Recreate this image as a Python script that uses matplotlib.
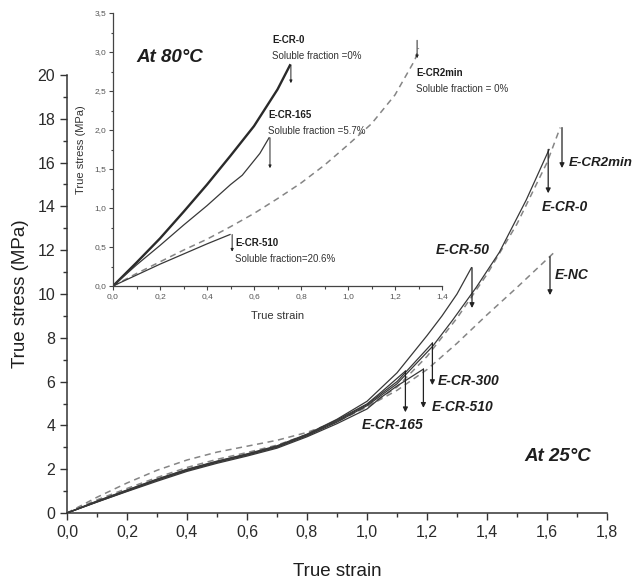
import matplotlib
matplotlib.use('Agg')
import matplotlib.pyplot as plt

plt.rcParams['font.family'] = ['Liberation Sans', 'DejaVu Sans']

# Main plot data (25 °C)
strain_cr0 = [0, 0.1, 0.2, 0.3, 0.4, 0.5, 0.6, 0.7, 0.8, 0.9, 1.0, 1.1, 1.218, 1.285, 1.364, 1.441, 1.531, 1.607]
stress_cr0 = [0, 0.52, 1.02, 1.5, 1.95, 2.33, 2.66, 3.02, 3.52, 4.15, 4.9, 5.9, 7.6, 8.8, 10.3, 11.9, 14.3, 16.6]

strain_cr2min = [0, 0.1, 0.2, 0.3, 0.4, 0.5, 0.6, 0.7, 0.8, 0.9, 1.0, 1.1, 1.2, 1.3, 1.4, 1.5, 1.6, 1.644]
stress_cr2min = [0, 0.6, 1.12, 1.62, 2.08, 2.45, 2.76, 3.1, 3.58, 4.18, 4.85, 5.75, 7.15, 8.9, 10.9, 13.2, 16.0, 17.6]

strain_cr50 = [0, 0.1, 0.2, 0.3, 0.4, 0.5, 0.6, 0.7, 0.8, 0.9, 1.0, 1.1, 1.2, 1.25, 1.3, 1.348]
stress_cr50 = [0, 0.55, 1.05, 1.55, 2.0, 2.37, 2.7, 3.07, 3.6, 4.28, 5.1, 6.4, 8.1, 9.0, 10.0, 11.2]

strain_cr300 = [0, 0.1, 0.2, 0.3, 0.4, 0.5, 0.6, 0.7, 0.8, 0.9, 1.0, 1.1, 1.218]
stress_cr300 = [0, 0.5, 1.0, 1.5, 1.94, 2.31, 2.64, 3.0, 3.55, 4.2, 4.95, 6.0, 7.76]

strain_cr165 = [0, 0.1, 0.2, 0.3, 0.4, 0.5, 0.6, 0.7, 0.8, 0.9, 1.0, 1.05, 1.128]
stress_cr165 = [0, 0.53, 1.04, 1.53, 1.98, 2.35, 2.68, 3.04, 3.58, 4.25, 4.98, 5.55, 6.48]

strain_cr510 = [0, 0.1, 0.2, 0.3, 0.4, 0.5, 0.6, 0.7, 0.8, 0.9, 1.0, 1.044, 1.1, 1.188]
stress_cr510 = [0, 0.5, 0.98, 1.45, 1.9, 2.27, 2.6, 2.96, 3.48, 4.08, 4.75, 5.25, 5.8, 6.57]

strain_nc = [0, 0.1, 0.2, 0.3, 0.4, 0.5, 0.6, 0.7, 0.8, 0.9, 1.0, 1.1, 1.2, 1.3, 1.4, 1.5, 1.624]
stress_nc = [0, 0.72, 1.37, 1.95, 2.42, 2.78, 3.05, 3.32, 3.68, 4.18, 4.85, 5.6, 6.55, 7.75, 9.05, 10.3, 11.9]

# Failure arrows: x, top, bottom
arrows_25 = {
    'E-CR2min': (1.65, 17.6, 15.75),
    'E-CR-0': (1.604, 16.6, 14.6),
    'E-CR-50': (1.35, 11.2, 9.36),
    'E-NC': (1.61, 11.7, 9.95),
    'E-CR-300': (1.218, 7.76, 5.84),
    'E-CR-510': (1.188, 6.57, 4.8),
    'E-CR-165': (1.128, 6.48, 4.6),
}
labels_25 = {
    'E-CR2min': (1.672, 16.0),
    'E-CR-0': (1.584, 13.97),
    'E-CR-50': (1.228, 12.0),
    'E-NC': (1.627, 10.87),
    'E-CR-300': (1.235, 6.03),
    'E-CR-510': (1.215, 4.84),
    'E-CR-165': (0.982, 4.02),
}

# Inset data (80 °C)
strain80_cr0 = [0, 0.1, 0.2, 0.3, 0.4, 0.5, 0.6, 0.7, 0.753]
stress80_cr0 = [0, 0.3, 0.61, 0.95, 1.3, 1.67, 2.05, 2.52, 2.83]

strain80_cr165 = [0, 0.1, 0.2, 0.3, 0.4, 0.5, 0.55, 0.625, 0.664]
stress80_cr165 = [0, 0.27, 0.52, 0.78, 1.03, 1.3, 1.42, 1.7, 1.9]

strain80_cr510 = [0, 0.1, 0.2, 0.3, 0.4, 0.498]
stress80_cr510 = [0, 0.14, 0.28, 0.41, 0.54, 0.66]

strain80_cr2min = [0, 0.1, 0.2, 0.3, 0.4, 0.5, 0.6, 0.7, 0.8, 0.9, 1.0, 1.1, 1.2, 1.285, 1.3]
stress80_cr2min = [0, 0.16, 0.31, 0.46, 0.6, 0.76, 0.93, 1.12, 1.32, 1.55, 1.81, 2.08, 2.45, 2.9, 3.05]

arrows_80 = {
    'E-CR-0': (0.757, 2.83, 2.6),
    'E-CR-165': (0.668, 1.9, 1.51),
    'E-CR-510': (0.507, 0.66, 0.44),
    'E-CR2min': (1.294, 3.15, 2.92),
}
notes_80 = {
    'E-CR-0': ('Soluble fraction =0%', 0.677, 3.15),
    'E-CR-165': ('Soluble fraction =5.7%', 0.66, 2.19),
    'E-CR-510': ('Soluble fraction=20.6%', 0.52, 0.55),
    'E-CR2min': ('Soluble fraction = 0%', 1.29, 2.73),
}

xticks_main = [0, 0.2, 0.4, 0.6, 0.8, 1.0, 1.2, 1.4, 1.6, 1.8]
xlabels_main = ['0,0', '0,2', '0,4', '0,6', '0,8', '1,0', '1,2', '1,4', '1,6', '1,8']
yticks_main = [0, 2, 4, 6, 8, 10, 12, 14, 16, 18, 20]
xticks_inset = [0, 0.2, 0.4, 0.6, 0.8, 1.0, 1.2, 1.4]
xlabels_inset = ['0,0', '0,2', '0,4', '0,6', '0,8', '1,0', '1,2', '1,4']
yticks_inset = [0, 0.5, 1.0, 1.5, 2.0, 2.5, 3.0, 3.5]
ylabels_inset = ['0,0', '0,5', '1,0', '1,5', '2,0', '2,5', '3,0', '3,5']

solid = '#383838'
dash = '#858585'
txt = '#1e1e1e'

fig = plt.figure(figsize=(6.35, 5.82), dpi=100)
ax = fig.add_axes([67/635, 69/582, 540/635, 438/582])

ax.plot(strain_nc, stress_nc, color=dash, lw=1.1, ls=(0, (4, 3)))
ax.plot(strain_cr2min, stress_cr2min, color=dash, lw=1.1, ls=(0, (4, 3)))
for s, t in [(strain_cr0, stress_cr0), (strain_cr50, stress_cr50), (strain_cr300, stress_cr300),
             (strain_cr165, stress_cr165), (strain_cr510, stress_cr510)]:
    ax.plot(s, t, color=solid, lw=0.9)

for name, (x, top, bot) in arrows_25.items():
    ax.annotate('', xy=(x, bot), xytext=(x, top),
                arrowprops=dict(arrowstyle='-|>', color='#222222', lw=0.9,
                                mutation_scale=7, shrinkA=0, shrinkB=0))
for name, (x, y) in labels_25.items():
    ax.text(x, y, name, fontsize=9.6 if name == 'E-CR2min' else 10,
            fontweight='bold', fontstyle='italic', color=txt, va='center', ha='left')
ax.text(1.524, 2.56, 'At 25°C', fontsize=13.5, fontweight='bold', fontstyle='italic',
        color=txt, va='center', ha='left')

ax.set_xlim(0, 1.8)
ax.set_ylim(0, 20)
ax.set_xticks(xticks_main)
ax.set_xticklabels(xlabels_main)
ax.set_yticks(yticks_main)
ax.set_xticks([0.1, 0.3, 0.5, 0.7, 0.9, 1.1, 1.3, 1.5, 1.7], minor=True)
ax.set_yticks([1, 3, 5, 7, 9, 11, 13, 15, 17, 19], minor=True)
ax.tick_params(which='major', direction='out', length=5, width=1, labelsize=11.5,
               colors='#333333', labelcolor='#2a2a2a')
ax.tick_params(which='minor', direction='out', length=3, width=1, colors='#333333')
for side in ['top', 'right']:
    ax.spines[side].set_visible(False)
for side in ['left', 'bottom']:
    ax.spines[side].set_color('#333333')
    ax.spines[side].set_linewidth(1.1)
ax.set_xlabel('True strain', fontsize=13.5, color=txt, labelpad=17)
ax.set_ylabel('True stress (MPa)', fontsize=13.5, color=txt, labelpad=6)

# Inset (transparent so the E-CR-50 label stays visible)
axi = fig.add_axes([113/635, 296/582, 329/635, 273/582])
axi.patch.set_alpha(0)
axi.plot(strain80_cr2min, stress80_cr2min, color=dash, lw=1.1, ls=(0, (4, 3)))
axi.plot(strain80_cr0, stress80_cr0, color='#2a2a2a', lw=1.7)
axi.plot(strain80_cr165, stress80_cr165, color=solid, lw=0.9)
axi.plot(strain80_cr510, stress80_cr510, color=solid, lw=0.9)

for name, (x, top, bot) in arrows_80.items():
    axi.annotate('', xy=(x, bot), xytext=(x, top),
                 arrowprops=dict(arrowstyle='-|>', color='#222222', lw=0.7,
                                 mutation_scale=4, shrinkA=0, shrinkB=0))
for name, (note, x, y) in notes_80.items():
    axi.text(x, y, name, fontsize=7, fontweight='bold', color=txt, va='center', ha='left')
    axi.text(x, y - 0.2, note, fontsize=7, color='#333333', va='center', ha='left')
axi.text(0.1, 2.93, 'At 80°C', fontsize=13.5, fontweight='bold', fontstyle='italic',
         color=txt, va='center', ha='left')

axi.set_xlim(0, 1.4)
axi.set_ylim(0, 3.5)
axi.set_xticks(xticks_inset)
axi.set_xticklabels(xlabels_inset)
axi.set_yticks(yticks_inset)
axi.set_yticklabels(ylabels_inset)
axi.set_xticks([0.1, 0.3, 0.5, 0.7, 0.9, 1.1, 1.3], minor=True)
axi.set_yticks([0.25, 0.75, 1.25, 1.75, 2.25, 2.75, 3.25], minor=True)
axi.tick_params(which='major', direction='out', length=3, width=0.8, labelsize=6,
                colors='#444444', labelcolor='#555555', pad=2)
axi.tick_params(which='minor', direction='out', length=1.8, width=0.8, colors='#444444')
for side in ['top', 'right']:
    axi.spines[side].set_visible(False)
for side in ['left', 'bottom']:
    axi.spines[side].set_color('#444444')
    axi.spines[side].set_linewidth(0.9)
axi.set_xlabel('True strain', fontsize=8, color='#333333', labelpad=8)
axi.set_ylabel('True stress (MPa)', fontsize=8, color='#333333', labelpad=6)

fig.savefig('out.png', dpi=100)
